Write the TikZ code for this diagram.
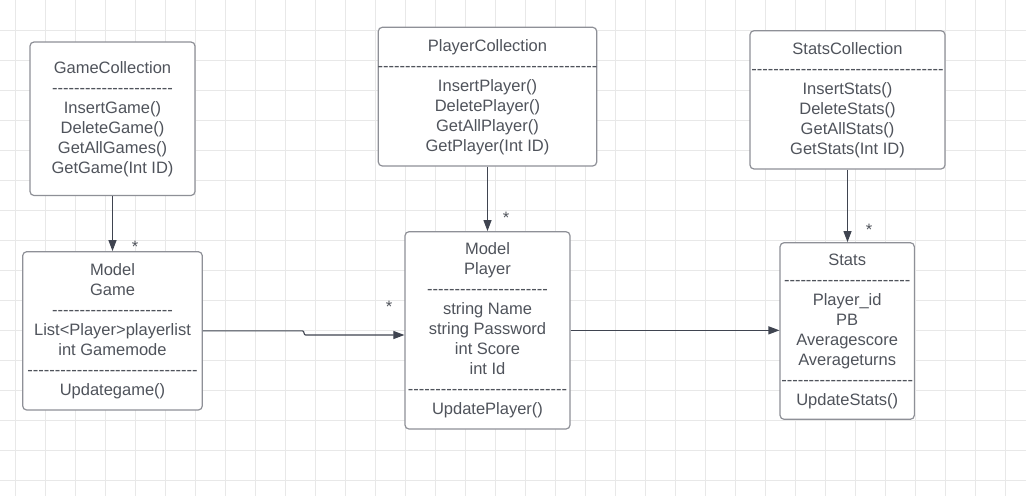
\documentclass[tikz,border=0pt]{standalone}
\usepackage{fontspec}
\setmainfont{Liberation Sans}[Ligatures=TeXOff]
\usetikzlibrary{arrows.meta}
\definecolor{gridc}{HTML}{E8E8E8}
\definecolor{boxc}{HTML}{8E9097}
\definecolor{textc}{HTML}{4F535B}
\definecolor{linec}{HTML}{3F4450}
\ExplSyntaxOn
\newcommand\hy[1]{\prg_replicate:nn{#1}{-}}
\ExplSyntaxOff
\begin{document}
\begin{tikzpicture}[x=1pt,y=-1pt,
  box/.style={draw=boxc, line width=1.2pt, rounded corners=4pt, fill=white, inner sep=0pt},
  txt/.style={align=center, font=\fontsize{16.5}{20}\selectfont, text=textc, inner sep=0pt, anchor=base},
  star/.style={font=\fontsize{16.5}{20}\selectfont, text=textc, inner sep=0pt, anchor=base},
  conn/.style={draw=linec, line width=1.1pt, -{Triangle[length=11pt,width=8pt]}}]
\useasboundingbox (0,0) rectangle (1026,496);
\fill[white] (0,0) rectangle (1026,496);
% grid
\foreach \gx in {15,45,...,1005} \draw[gridc, line width=1pt] (\gx,0) -- (\gx,496);
\foreach \gy in {30,60,...,480} \draw[gridc, line width=1pt] (0,\gy) -- (1026,\gy);
% boxes
\node[box, minimum width=165pt, minimum height=153.5pt] (gc) at (112.5,118.75) {};
\node[box, minimum width=218.4pt, minimum height=138.7pt] (pc) at (487.5,96.65) {};
\node[box, minimum width=195pt, minimum height=138.3pt] (sc) at (847.5,99.85) {};
\node[box, minimum width=179.6pt, minimum height=158.3pt] (game) at (112.5,330.85) {};
\node[box, minimum width=165pt, minimum height=197.3pt] (player) at (487.5,330.35) {};
\node[box, minimum width=134.3pt, minimum height=176.6pt] (stats) at (847.2,331) {};
% texts (anchor = baseline of last line)
\node[txt] (gct) at (112.5,173.5) {GameCollection\\\hy{22}\\InsertGame()\\DeleteGame()\\GetAllGames()\\GetGame(Int ID)};
\node[txt] (pct) at (487.5,151) {PlayerCollection\\\hy{40}\\InsertPlayer()\\DeletePlayer()\\GetAllPlayer()\\GetPlayer(Int ID)};
\node[txt] (sct) at (847.5,154.5) {StatsCollection\\\hy{35}\\InsertStats()\\DeleteStats()\\GetAllStats()\\GetStats(Int ID)};
\node[txt] (gamet) at (112.5,395.5) {Model\\Game\\\hy{22}\\List<Player>playerlist\\int Gamemode\\\hy{31}\\Updategame()};
\node[txt] (playert) at (487.5,414.5) {Model\\Player\\\hy{22}\\string Name\\string Password\\int Score\\int Id\\\hy{29}\\UpdatePlayer()};
\node[txt] (statst) at (847.2,405.5) {Stats\\\hy{23}\\Player\_id\\PB\\Averagescore\\Averageturns\\\hy{24}\\UpdateStats()};
% connectors
\draw[conn] (gc.south) -- (game.north);
\draw[conn] (pc.south) -- (player.north);
\draw[conn] (sc.south) -- (sc.south |- stats.north);
\coordinate (j1) at (302.5,330.85);
\coordinate (j2) at (305.5,335);
\draw[conn] (game.east) -- (j1) .. controls (304.5,330.85) and (303.5,335) .. (j2) -- (j2 -| player.west);
\draw[conn] (player.east) -- (player.east -| stats.west);
% multiplicities
\node[star] (s1) at (135,252.4) {*};
\node[star] (s2) at (506,223.4) {*};
\node[star] (s3) at (389,312.4) {*};
\node[star] (s4) at (869,235.4) {*};
\end{tikzpicture}
\end{document}
